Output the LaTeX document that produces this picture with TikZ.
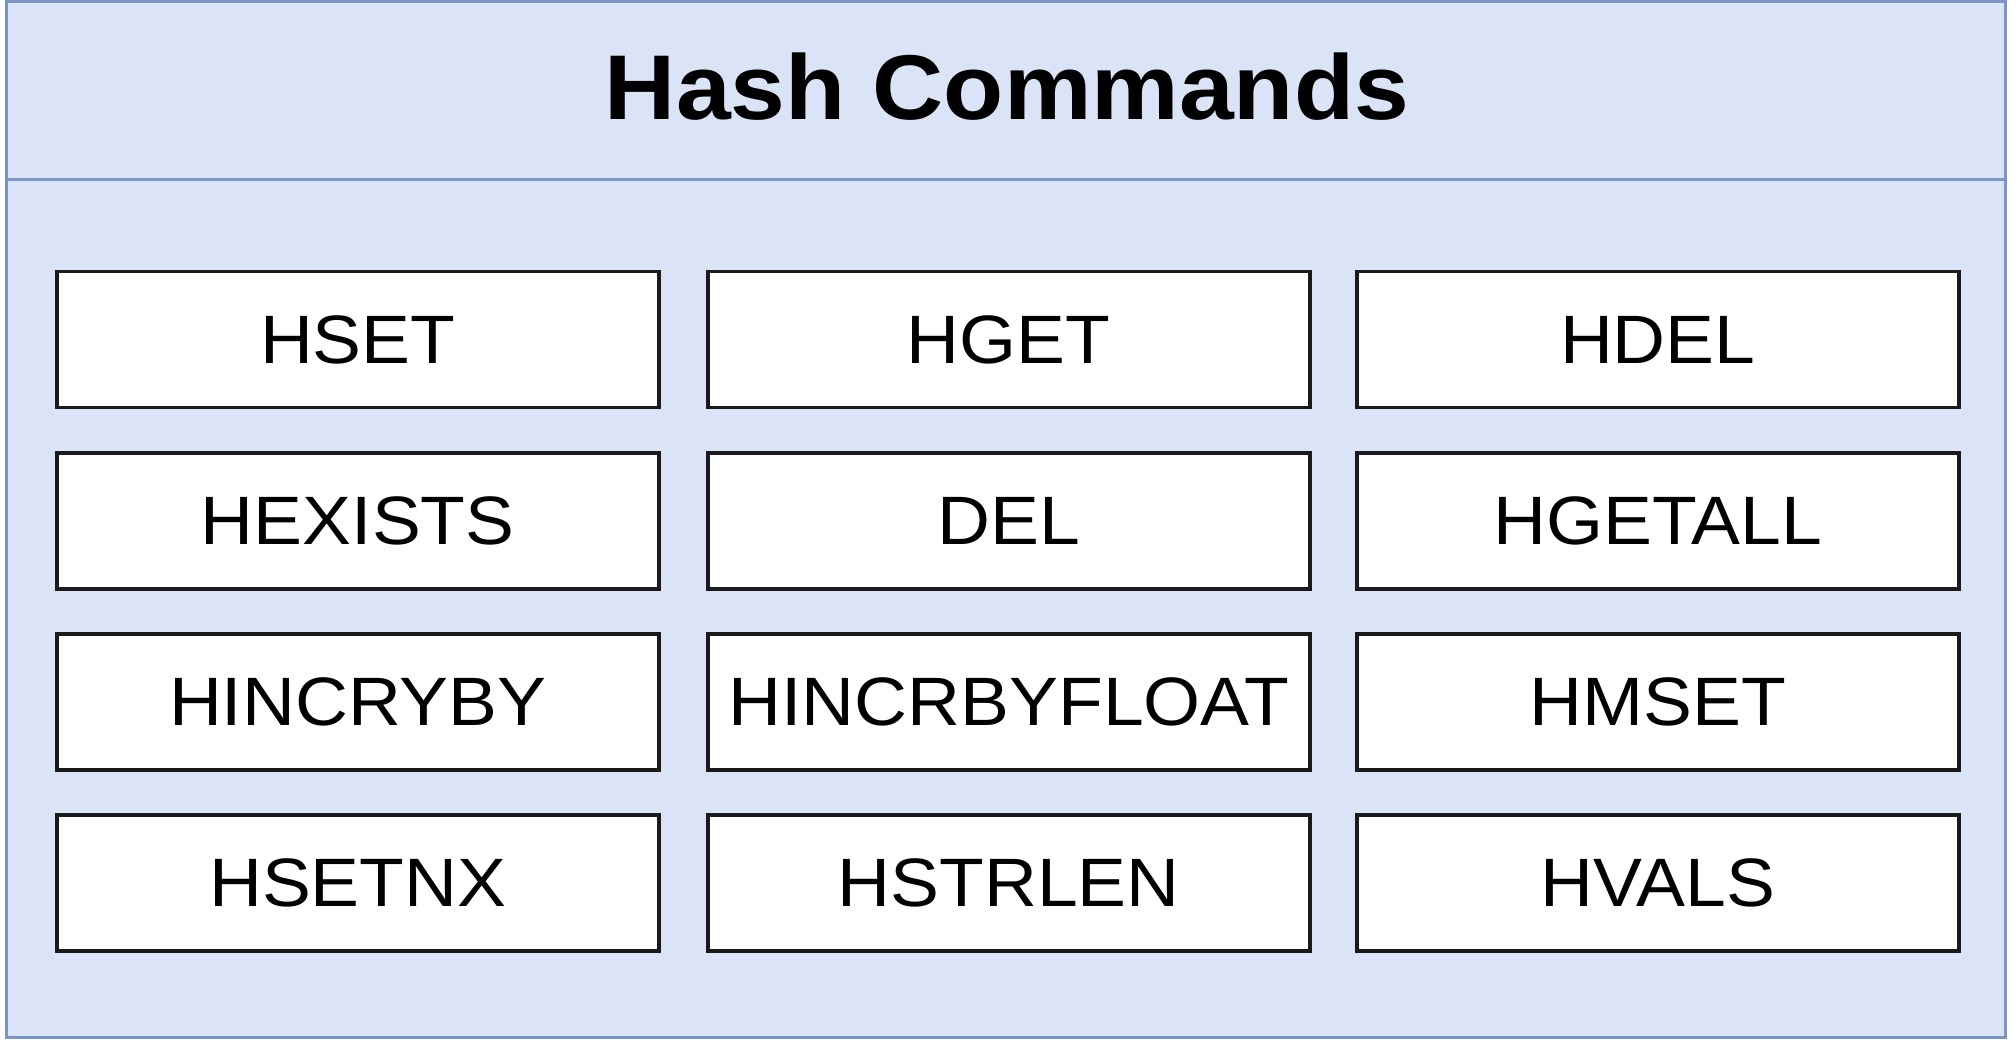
\documentclass[tikz,border=0pt]{standalone}
\usepackage{fontspec}
\setmainfont{Liberation Sans}
\newfontfamily\widesans[FakeStretch=1.07]{Liberation Sans}
\definecolor{panelfill}{HTML}{DAE4F6}
\definecolor{paneledge}{HTML}{7B95C4}
\definecolor{cmdedge}{HTML}{1A1A1A}
\begin{document}
\begin{tikzpicture}[x=1pt,y=-1pt,
  panel/.style={draw=paneledge,fill=panelfill,line width=3pt},
  cmd/.style={draw=cmdedge,fill=white,line width=3.5pt,minimum width=602pt,minimum height=136pt,
    inner sep=0pt,font=\widesans\fontsize{68.5}{76}\selectfont,anchor=north west},
  title/.style={font=\widesans\bfseries\fontsize{92}{100}\selectfont}]
\useasboundingbox (0,0) rectangle (2016,1040);
% container with header band
\draw[panel] (6,2) rectangle (2005,1037);
\draw[paneledge,line width=3pt] (6,180) -- (2005,180);
\node[title] (head) at (1007,87) {Hash Commands};
% command grid
\node[cmd] (hset)     at (55,270)   {HSET};
\node[cmd] (hget)     at (706,270)  {HGET};
\node[cmd] (hdel)     at (1355,270) {HDEL};
\node[cmd] (hexists)  at (55,451)   {HEXISTS};
\node[cmd] (del)      at (706,451)  {DEL};
\node[cmd] (hgetall)  at (1355,451) {HGETALL};
\node[cmd] (hincryby) at (55,632)   {HINCRYBY};
\node[cmd] (hincrf)   at (706,632)  {HINCRBYFLOAT};
\node[cmd] (hmset)    at (1355,632) {HMSET};
\node[cmd] (hsetnx)   at (55,813)   {HSETNX};
\node[cmd] (hstrlen)  at (706,813)  {HSTRLEN};
\node[cmd] (hvals)    at (1355,813) {HVALS};
\end{tikzpicture}
\end{document}
